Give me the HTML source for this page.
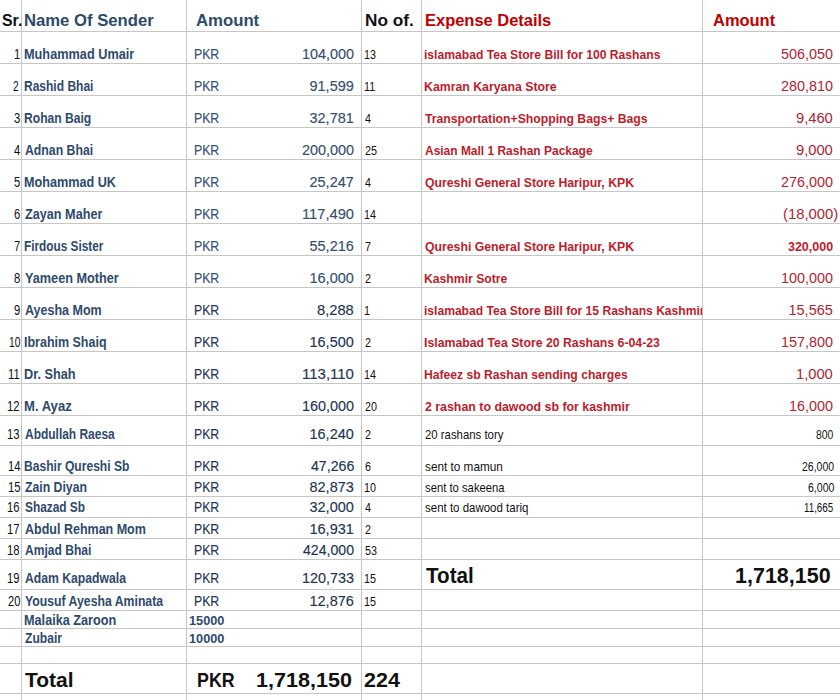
<!DOCTYPE html><html><head><meta charset="utf-8"><style>
html,body{margin:0;padding:0;background:#fff;}
#w{position:relative;width:840px;height:700px;overflow:hidden;background:#fff;}
.h{position:absolute;left:0;width:840px;height:1px;background:#c6c6c6;}
.v{position:absolute;top:0;width:1px;height:700px;background:#c6c6c6;}
.t{position:absolute;white-space:nowrap;line-height:1;font-family:'Liberation Sans', sans-serif;transform-origin:0 0;}
.hdr{font-size:17.391px;font-weight:bold;}
.name{font-size:14.493px;font-weight:bold;color:#2e4a6b;}
.pkr{font-size:14.203px;font-weight:normal;color:#2e4a6b;}
.num{font-size:14.493px;font-weight:normal;color:#2e4a6b;}
.bnum{font-size:12.464px;font-weight:bold;color:#2e4a6b;}
.sr{font-size:14.203px;font-weight:normal;color:#111111;}
.cnt{font-size:12.681px;font-weight:normal;color:#111111;}
.exp{font-size:12.754px;font-weight:bold;color:#bc1c2c;}
.thin{font-size:11.884px;font-weight:normal;color:#111111;}
.ramt{font-size:14.493px;font-weight:normal;color:#b02433;}
.ramtb{font-size:12.754px;font-weight:bold;color:#bc1c2c;}
.tot{font-size:20.580px;font-weight:bold;color:#111111;}
.tot2{font-size:21.739px;font-weight:bold;color:#111111;}
</style></head><body><div id="w">
<div class="h" style="top:31px"></div>
<div class="h" style="top:63px"></div>
<div class="h" style="top:95px"></div>
<div class="h" style="top:127px"></div>
<div class="h" style="top:159px"></div>
<div class="h" style="top:191px"></div>
<div class="h" style="top:223px"></div>
<div class="h" style="top:255px"></div>
<div class="h" style="top:287px"></div>
<div class="h" style="top:319px"></div>
<div class="h" style="top:351px"></div>
<div class="h" style="top:383px"></div>
<div class="h" style="top:415px"></div>
<div class="h" style="top:445px"></div>
<div class="h" style="top:475px"></div>
<div class="h" style="top:496px"></div>
<div class="h" style="top:517px"></div>
<div class="h" style="top:538px"></div>
<div class="h" style="top:559px"></div>
<div class="h" style="top:589px"></div>
<div class="h" style="top:610px"></div>
<div class="h" style="top:628px"></div>
<div class="h" style="top:646px"></div>
<div class="h" style="top:663px"></div>
<div class="h" style="top:693px"></div>
<div class="v" style="left:21px"></div>
<div class="v" style="left:186px"></div>
<div class="v" style="left:361px"></div>
<div class="v" style="left:421px"></div>
<div class="v" style="left:702px"></div>
<div class="t hdr" style="left:1.59px;top:12px;transform:scaleX(0.9130);color:#111111;">Sr.</div>
<div class="t hdr" style="left:24.29px;top:12px;transform:scaleX(0.9590);color:#2e4a6b;">Name Of Sender</div>
<div class="t hdr" style="left:196.20px;top:12px;transform:scaleX(0.9630);color:#2e4a6b;">Amount</div>
<div class="t hdr" style="left:364.52px;top:12px;transform:scaleX(0.9895);color:#111111;">No of.</div>
<div class="t hdr" style="left:424.55px;top:12px;transform:scaleX(0.9470);color:#c00000;">Expense Details</div>
<div class="t hdr" style="left:712.50px;top:12px;transform:scaleX(0.9470);color:#c00000;">Amount</div>
<div class="t name" style="left:23.62px;top:47px;transform:scaleX(0.8780);">Muhammad Umair</div>
<div class="t name" style="left:23.67px;top:79px;transform:scaleX(0.8293);">Rashid Bhai</div>
<div class="t name" style="left:23.66px;top:111px;transform:scaleX(0.8354);">Rohan Baig</div>
<div class="t name" style="left:24.50px;top:143px;transform:scaleX(0.8469);">Adnan Bhai</div>
<div class="t name" style="left:23.63px;top:175px;transform:scaleX(0.8726);">Mohammad UK</div>
<div class="t name" style="left:24.50px;top:207px;transform:scaleX(0.8736);">Zayan Maher</div>
<div class="t name" style="left:23.69px;top:239px;transform:scaleX(0.8151);">Firdous Sister</div>
<div class="t name" style="left:24.50px;top:271px;transform:scaleX(0.8762);">Yameen Mother</div>
<div class="t name" style="left:24.50px;top:303px;transform:scaleX(0.8636);">Ayesha Mom</div>
<div class="t name" style="left:23.64px;top:335px;transform:scaleX(0.8617);">Ibrahim Shaiq</div>
<div class="t name" style="left:23.62px;top:367px;transform:scaleX(0.8772);">Dr. Shah</div>
<div class="t name" style="left:23.61px;top:399px;transform:scaleX(0.9024);">M. Ayaz</div>
<div class="t name" style="left:24.50px;top:427px;transform:scaleX(0.8257);">Abdullah Raesa</div>
<div class="t name" style="left:23.67px;top:459px;transform:scaleX(0.8340);">Bashir Qureshi Sb</div>
<div class="t name" style="left:24.50px;top:480px;transform:scaleX(0.8459);">Zain Diyan</div>
<div class="t name" style="left:24.67px;top:500px;transform:scaleX(0.8197);">Shazad Sb</div>
<div class="t name" style="left:24.50px;top:522px;transform:scaleX(0.8633);">Abdul Rehman Mom</div>
<div class="t name" style="left:24.50px;top:543px;transform:scaleX(0.8324);">Amjad Bhai</div>
<div class="t name" style="left:24.50px;top:571px;transform:scaleX(0.8417);">Adam Kapadwala</div>
<div class="t name" style="left:24.50px;top:594px;transform:scaleX(0.8466);">Yousuf Ayesha Aminata</div>
<div class="t name" style="left:23.62px;top:613px;transform:scaleX(0.8750);">Malaika Zaroon</div>
<div class="t name" style="left:24.51px;top:631px;transform:scaleX(0.8355);">Zubair</div>
<div class="t sr" style="left:13.65px;top:47px;transform:scaleX(0.7933);">1</div>
<div class="t pkr" style="left:194.13px;top:47px;transform:scaleX(0.8650);color:#34506f;-webkit-text-stroke:0.15px currentColor;">PKR</div>
<div class="t num" style="left:301.81px;top:47px;transform:scaleX(0.9941);color:#34506f;-webkit-text-stroke:0.15px currentColor;">104,000</div>
<div class="t cnt" style="left:364.15px;top:49px;transform:scaleX(0.8500);">13</div>
<div class="t sr" style="left:13.45px;top:79px;transform:scaleX(0.7157);">2</div>
<div class="t pkr" style="left:194.13px;top:79px;transform:scaleX(0.8650);color:#34506f;-webkit-text-stroke:0.15px currentColor;">PKR</div>
<div class="t num" style="left:309.50px;top:79px;transform:scaleX(1.0000);color:#34506f;-webkit-text-stroke:0.15px currentColor;">91,599</div>
<div class="t cnt" style="left:364.15px;top:81px;transform:scaleX(0.8500);">11</div>
<div class="t sr" style="left:13.65px;top:111px;transform:scaleX(0.7933);">3</div>
<div class="t pkr" style="left:194.13px;top:111px;transform:scaleX(0.8650);color:#34506f;-webkit-text-stroke:0.15px currentColor;">PKR</div>
<div class="t num" style="left:309.50px;top:111px;transform:scaleX(1.0000);color:#34506f;-webkit-text-stroke:0.15px currentColor;">32,781</div>
<div class="t cnt" style="left:365.00px;top:113px;transform:scaleX(0.8500);">4</div>
<div class="t sr" style="left:13.85px;top:143px;transform:scaleX(0.7933);">4</div>
<div class="t pkr" style="left:194.13px;top:143px;transform:scaleX(0.8650);color:#34506f;-webkit-text-stroke:0.15px currentColor;">PKR</div>
<div class="t num" style="left:301.81px;top:143px;transform:scaleX(0.9941);color:#34506f;-webkit-text-stroke:0.15px currentColor;">200,000</div>
<div class="t cnt" style="left:365.00px;top:145px;transform:scaleX(0.8500);">25</div>
<div class="t sr" style="left:13.85px;top:175px;transform:scaleX(0.7933);">5</div>
<div class="t pkr" style="left:194.13px;top:175px;transform:scaleX(0.8650);color:#34506f;-webkit-text-stroke:0.15px currentColor;">PKR</div>
<div class="t num" style="left:309.50px;top:175px;transform:scaleX(1.0000);color:#34506f;-webkit-text-stroke:0.15px currentColor;">25,247</div>
<div class="t cnt" style="left:365.00px;top:177px;transform:scaleX(0.8500);">4</div>
<div class="t sr" style="left:13.65px;top:207px;transform:scaleX(0.7933);">6</div>
<div class="t pkr" style="left:194.13px;top:207px;transform:scaleX(0.8650);color:#34506f;-webkit-text-stroke:0.15px currentColor;">PKR</div>
<div class="t num" style="left:301.79px;top:207px;transform:scaleX(1.0140);color:#34506f;-webkit-text-stroke:0.15px currentColor;">117,490</div>
<div class="t cnt" style="left:364.15px;top:209px;transform:scaleX(0.8500);">14</div>
<div class="t sr" style="left:13.65px;top:239px;transform:scaleX(0.7933);">7</div>
<div class="t pkr" style="left:194.13px;top:239px;transform:scaleX(0.8650);color:#34506f;-webkit-text-stroke:0.15px currentColor;">PKR</div>
<div class="t num" style="left:309.50px;top:239px;transform:scaleX(1.0000);color:#34506f;-webkit-text-stroke:0.15px currentColor;">55,216</div>
<div class="t cnt" style="left:365.00px;top:241px;transform:scaleX(0.8500);">7</div>
<div class="t sr" style="left:13.65px;top:271px;transform:scaleX(0.7933);">8</div>
<div class="t pkr" style="left:194.13px;top:271px;transform:scaleX(0.8650);color:#34506f;-webkit-text-stroke:0.15px currentColor;">PKR</div>
<div class="t num" style="left:309.50px;top:271px;transform:scaleX(1.0000);color:#34506f;-webkit-text-stroke:0.15px currentColor;">16,000</div>
<div class="t cnt" style="left:365.00px;top:273px;transform:scaleX(0.8500);">2</div>
<div class="t sr" style="left:13.65px;top:303px;transform:scaleX(0.7933);">9</div>
<div class="t pkr" style="left:194.13px;top:303px;transform:scaleX(0.8650);color:#1f3552;-webkit-text-stroke:0.15px currentColor;">PKR</div>
<div class="t num" style="left:316.99px;top:303px;transform:scaleX(1.0145);color:#1f3552;-webkit-text-stroke:0.15px currentColor;">8,288</div>
<div class="t cnt" style="left:364.15px;top:305px;transform:scaleX(0.8500);">1</div>
<div class="t sr" style="left:8.73px;top:335px;transform:scaleX(0.7187);">10</div>
<div class="t pkr" style="left:194.13px;top:335px;transform:scaleX(0.8650);color:#1f3552;-webkit-text-stroke:0.15px currentColor;">PKR</div>
<div class="t num" style="left:309.50px;top:335px;transform:scaleX(1.0000);color:#1f3552;-webkit-text-stroke:0.15px currentColor;">16,500</div>
<div class="t cnt" style="left:365.00px;top:337px;transform:scaleX(0.8500);">2</div>
<div class="t sr" style="left:8.09px;top:367px;transform:scaleX(0.7933);">11</div>
<div class="t pkr" style="left:194.13px;top:367px;transform:scaleX(0.8650);color:#1f3552;-webkit-text-stroke:0.15px currentColor;">PKR</div>
<div class="t num" style="left:301.77px;top:367px;transform:scaleX(1.0347);color:#1f3552;-webkit-text-stroke:0.15px currentColor;">113,110</div>
<div class="t cnt" style="left:364.15px;top:369px;transform:scaleX(0.8500);">14</div>
<div class="t sr" style="left:7.30px;top:399px;transform:scaleX(0.7933);">12</div>
<div class="t pkr" style="left:194.13px;top:399px;transform:scaleX(0.8650);color:#1f3552;-webkit-text-stroke:0.15px currentColor;">PKR</div>
<div class="t num" style="left:301.81px;top:399px;transform:scaleX(0.9941);color:#1f3552;-webkit-text-stroke:0.15px currentColor;">160,000</div>
<div class="t cnt" style="left:365.00px;top:401px;transform:scaleX(0.8500);">20</div>
<div class="t sr" style="left:7.30px;top:427px;transform:scaleX(0.7933);">13</div>
<div class="t pkr" style="left:194.13px;top:427px;transform:scaleX(0.8650);color:#1f3552;-webkit-text-stroke:0.15px currentColor;">PKR</div>
<div class="t num" style="left:309.50px;top:427px;transform:scaleX(1.0000);color:#1f3552;-webkit-text-stroke:0.15px currentColor;">16,240</div>
<div class="t cnt" style="left:365.00px;top:429px;transform:scaleX(0.8500);">2</div>
<div class="t sr" style="left:7.51px;top:459px;transform:scaleX(0.7933);">14</div>
<div class="t pkr" style="left:194.13px;top:459px;transform:scaleX(0.8650);color:#1f3552;-webkit-text-stroke:0.15px currentColor;">PKR</div>
<div class="t num" style="left:310.50px;top:459px;transform:scaleX(0.9773);color:#1f3552;-webkit-text-stroke:0.15px currentColor;">47,266</div>
<div class="t cnt" style="left:365.15px;top:461px;transform:scaleX(0.8500);">6</div>
<div class="t sr" style="left:7.51px;top:480px;transform:scaleX(0.7933);">15</div>
<div class="t pkr" style="left:194.13px;top:480px;transform:scaleX(0.8650);color:#1f3552;-webkit-text-stroke:0.15px currentColor;">PKR</div>
<div class="t num" style="left:309.50px;top:480px;transform:scaleX(1.0000);color:#1f3552;-webkit-text-stroke:0.15px currentColor;">82,873</div>
<div class="t cnt" style="left:364.15px;top:482px;transform:scaleX(0.8500);">10</div>
<div class="t sr" style="left:7.30px;top:500px;transform:scaleX(0.7933);">16</div>
<div class="t pkr" style="left:194.13px;top:500px;transform:scaleX(0.8650);color:#1f3552;-webkit-text-stroke:0.15px currentColor;">PKR</div>
<div class="t num" style="left:309.50px;top:500px;transform:scaleX(1.0000);color:#1f3552;-webkit-text-stroke:0.15px currentColor;">32,000</div>
<div class="t cnt" style="left:365.00px;top:502px;transform:scaleX(0.8500);">4</div>
<div class="t sr" style="left:7.30px;top:522px;transform:scaleX(0.7933);">17</div>
<div class="t pkr" style="left:194.13px;top:522px;transform:scaleX(0.8650);color:#1f3552;-webkit-text-stroke:0.15px currentColor;">PKR</div>
<div class="t num" style="left:309.50px;top:522px;transform:scaleX(1.0000);color:#1f3552;-webkit-text-stroke:0.15px currentColor;">16,931</div>
<div class="t cnt" style="left:365.00px;top:524px;transform:scaleX(0.8500);">2</div>
<div class="t sr" style="left:7.30px;top:543px;transform:scaleX(0.7933);">18</div>
<div class="t pkr" style="left:194.13px;top:543px;transform:scaleX(0.8650);color:#1f3552;-webkit-text-stroke:0.15px currentColor;">PKR</div>
<div class="t num" style="left:302.80px;top:543px;transform:scaleX(0.9750);color:#1f3552;-webkit-text-stroke:0.15px currentColor;">424,000</div>
<div class="t cnt" style="left:365.15px;top:545px;transform:scaleX(0.8500);">53</div>
<div class="t sr" style="left:7.30px;top:571px;transform:scaleX(0.7933);">19</div>
<div class="t pkr" style="left:194.13px;top:571px;transform:scaleX(0.8650);color:#1f3552;-webkit-text-stroke:0.15px currentColor;">PKR</div>
<div class="t num" style="left:301.81px;top:571px;transform:scaleX(0.9941);color:#1f3552;-webkit-text-stroke:0.15px currentColor;">120,733</div>
<div class="t cnt" style="left:364.15px;top:573px;transform:scaleX(0.8500);">15</div>
<div class="t sr" style="left:7.71px;top:594px;transform:scaleX(0.7802);">20</div>
<div class="t pkr" style="left:194.13px;top:594px;transform:scaleX(0.8650);color:#1f3552;-webkit-text-stroke:0.15px currentColor;">PKR</div>
<div class="t num" style="left:309.50px;top:594px;transform:scaleX(1.0000);color:#1f3552;-webkit-text-stroke:0.15px currentColor;">12,876</div>
<div class="t cnt" style="left:364.15px;top:596px;transform:scaleX(0.8500);">15</div>
<div class="t bnum" style="left:189.08px;top:615px;transform:scaleX(1.0212);">15000</div>
<div class="t bnum" style="left:189.08px;top:633px;transform:scaleX(1.0212);">10000</div>
<div class="t exp" style="left:423.55px;top:49px;transform:scaleX(0.9514);">islamabad Tea Store Bill for 100 Rashans</div>
<div class="t exp" style="left:423.54px;top:81px;transform:scaleX(0.9651);">Kamran Karyana Store</div>
<div class="t exp" style="left:424.50px;top:113px;transform:scaleX(0.9580);">Transportation+Shopping Bags+ Bags</div>
<div class="t exp" style="left:424.50px;top:145px;transform:scaleX(0.9382);">Asian Mall 1 Rashan Package</div>
<div class="t exp" style="left:424.50px;top:177px;transform:scaleX(0.9608);">Qureshi General Store Haripur, KPK</div>
<div class="t exp" style="left:424.50px;top:241px;transform:scaleX(0.9608);">Qureshi General Store Haripur, KPK</div>
<div class="t exp" style="left:423.55px;top:273px;transform:scaleX(0.9565);">Kashmir Sotre</div>
<div style="position:absolute;left:421px;top:0;width:281px;height:700px;overflow:hidden"><div class="t exp" style="left:2.55px;top:305px;transform:scaleX(0.9478);">islamabad Tea Store Bill for 15 Rashans Kashmir</div></div>
<div class="t exp" style="left:423.54px;top:337px;transform:scaleX(0.9631);">Islamabad Tea Store 20 Rashans 6-04-23</div>
<div class="t exp" style="left:423.55px;top:369px;transform:scaleX(0.9519);">Hafeez sb Rashan sending charges</div>
<div class="t exp" style="left:424.50px;top:401px;transform:scaleX(0.9697);">2 rashan to dawood sb for kashmir</div>
<div class="t thin" style="left:424.50px;top:430px;transform:scaleX(0.9574);">20 rashans tory</div>
<div class="t thin" style="left:424.50px;top:462px;transform:scaleX(0.9905);">sent to mamun</div>
<div class="t thin" style="left:424.50px;top:483px;transform:scaleX(0.9494);">sent to sakeena</div>
<div class="t thin" style="left:424.50px;top:503px;transform:scaleX(0.9670);">sent to dawood tariq</div>
<div class="t ramt" style="left:780.75px;top:47px;transform:scaleX(0.9953);">506,050</div>
<div class="t ramt" style="left:780.75px;top:79px;transform:scaleX(0.9953);">280,810</div>
<div class="t ramt" style="left:795.99px;top:111px;transform:scaleX(1.0145);">9,460</div>
<div class="t ramt" style="left:795.99px;top:143px;transform:scaleX(1.0145);">9,000</div>
<div class="t ramt" style="left:780.75px;top:175px;transform:scaleX(0.9953);">276,000</div>
<div class="t ramt" style="left:783.22px;top:207px;transform:scaleX(1.0241);">(18,000)</div>
<div class="t ramt" style="left:780.75px;top:271px;transform:scaleX(0.9953);">100,000</div>
<div class="t ramt" style="left:788.50px;top:303px;transform:scaleX(1.0000);">15,565</div>
<div class="t ramt" style="left:780.75px;top:335px;transform:scaleX(0.9953);">157,800</div>
<div class="t ramt" style="left:795.99px;top:367px;transform:scaleX(1.0145);">1,000</div>
<div class="t ramt" style="left:788.75px;top:399px;transform:scaleX(0.9944);">16,000</div>
<div class="t ramtb" style="left:788.00px;top:241px;transform:scaleX(0.9783);">320,000</div>
<div class="t thin" style="left:815.77px;top:430px;transform:scaleX(0.8757);">800</div>
<div class="t thin" style="left:801.50px;top:462px;transform:scaleX(0.8823);">26,000</div>
<div class="t thin" style="left:807.51px;top:483px;transform:scaleX(0.8885);">6,000</div>
<div class="t thin" style="left:804.43px;top:503px;transform:scaleX(0.8235);">11,665</div>
<div class="t tot" style="left:24.70px;top:670px;transform:scaleX(1.0171);">Total</div>
<div class="t tot" style="left:196.83px;top:670px;transform:scaleX(0.8667);">PKR</div>
<div class="t tot" style="left:255.71px;top:670px;transform:scaleX(1.0473);">1,718,150</div>
<div class="t tot" style="left:364.46px;top:670px;transform:scaleX(1.0448);">224</div>
<div class="t tot2" style="left:425.51px;top:565px;transform:scaleX(0.9491);">Total</div>
<div class="t tot2" style="left:734.51px;top:565px;transform:scaleX(0.9895);">1,718,150</div>
</div></body></html>
